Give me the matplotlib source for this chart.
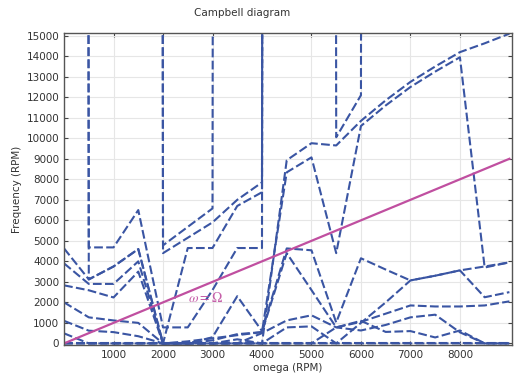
import matplotlib
matplotlib.use("Agg")
import matplotlib.pyplot as plt

# -------------------------------------------------
# Data (values in RPM)
# -------------------------------------------------
OFF = 1.0e6  # eigenfrequency far above the plotted range

omega = [0, 500, 1000, 1500, 2000, 2500, 3000, 3500, 4000, 4500,
         5000, 5500, 6000, 6500, 7000, 7500, 8000, 8500, 9000]

modes = {
    "zero": [0] * 19,
    "b":  [OFF, 4680, 4680, 6500, 780, 780, 2600, 4650, 4650, OFF,
           OFF, OFF, OFF, OFF, OFF, OFF, OFF, OFF, OFF],
    "v":  [OFF, 3120, 3750, 4600, 0, 0, 0, 0, 0, 0,
           0, 0, 0, 0, 0, 0, 0, 0, 0],
    "l1": [4630, 3120, 3750, 4600, 0, 4650, 4650, 6700, 7370, OFF,
           OFF, OFF, OFF, OFF, OFF, OFF, OFF, OFF, OFF],
    "l2": [3900, 2900, 2900, 4000, 0, 0, 300, 2300, 600, 4630,
           4540, 1020, 4150, 3600, 3070, 3300, 3560, 2250, 2500],
    "l3": [2830, 2590, 2240, 3500, 0, 0, 150, 450, 550, 4400,
           2600, 780, 1050, 1450, 1850, 1800, 1800, 1850, 2050],
    "l4": [2000, 1270, 1120, 1000, 0, 0, 0, 200, 0, 8930,
           9760, 9650, 10850, 11850, 12750, 13500, 14200, 14630, 15100],
    "l5": [1100, 620, 550, 350, 0, 100, 250, 400, 550, 8340,
           9070, 4400, 10600, 11600, 12500, 13250, 13950, 3700, 3950],
    "l6": [490, 0, 0, 0, 0, 0, 0, 0, 0, 780,
           830, 0, 1000, 2000, 3070, 3300, 3560, 3750, 3950],
    "l7": [0, 0, 0, 0, 0, 0, 0, 0, 500, 1120,
           1370, 780, 630, 900, 1270, 1400, 540, 0, 0],
    "l8": [0, 0, 0, 0, 0, 0, 0, 0, 0, 0,
           0, 780, 1100, 560, 600, 290, 630, 0, 0],
    "d":  [OFF, OFF, OFF, OFF, 4780, 5680, 6580, OFF, OFF, OFF,
           OFF, OFF, OFF, OFF, OFF, OFF, OFF, OFF, OFF],
    "e":  [OFF, OFF, OFF, OFF, 4400, 5150, 5900, 7000, 7850, OFF,
           OFF, OFF, OFF, OFF, OFF, OFF, OFF, OFF, OFF],
    "c":  [OFF, OFF, OFF, OFF, OFF, OFF, OFF, OFF, OFF, OFF,
           OFF, 10050, 12100, OFF, OFF, OFF, OFF, OFF, OFF],
}

x_ticks = [1000, 2000, 3000, 4000, 5000, 6000, 7000, 8000]
y_ticks = list(range(0, 15001, 1000))

blue = "#3a55a3"
magenta = "#c04fa0"

# -------------------------------------------------
# Plot
# -------------------------------------------------
plt.rcParams["mathtext.fontset"] = "stix"

fig = plt.figure(figsize=(5.25, 3.8), dpi=100)
ax = fig.add_axes([0.122, 0.092, 0.853, 0.821])

for name, freq in modes.items():
    ax.plot(omega, freq, color=blue, lw=1.5, linestyle=(0, (4.2, 1.6)))

ax.plot([0, 9000], [0, 9000], color=magenta, lw=1.6)
ax.text(2860, 2200, r"$\omega = \Omega$", color=magenta, fontsize=10,
        ha="center", va="center", alpha=0.9)

ax.set_xlim(0, 9050)
ax.set_ylim(-80, 15130)
ax.set_xticks(x_ticks)
ax.set_yticks(y_ticks)
ax.tick_params(direction="in", top=True, right=True, labelsize=7.5,
               length=3, color="#444444", labelcolor="#333333")
ax.grid(True, color="#e6e6e6", lw=0.8)
ax.set_axisbelow(True)
for sp in ax.spines.values():
    sp.set_color("#555555")
    sp.set_linewidth(1.0)

ax.set_xlabel("omega (RPM)", fontsize=7.5, color="#333333", labelpad=2)
ax.set_ylabel("Frequency (RPM)", fontsize=7.5, color="#333333", labelpad=3)
fig.text(0.461, 0.966, "Campbell diagram", fontsize=7.5, color="#333333",
         ha="center", va="center")

fig.savefig("out.png", dpi=100)
